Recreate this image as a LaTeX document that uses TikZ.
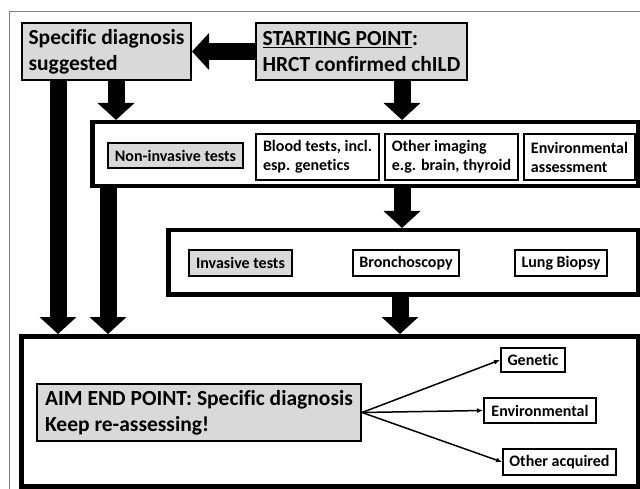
\documentclass[tikz,border=0pt]{standalone}
\usepackage{fontspec}
\setmainfont{Carlito}[Ligatures=NoCommon]
\usetikzlibrary{arrows.meta}
\definecolor{boxgrey}{HTML}{D9D9D9}
\definecolor{framegrey}{HTML}{808080}
\tikzset{
  panel/.style={draw,line width=4.5pt,anchor=north west,inner sep=0pt},
  item/.style={draw,line width=2pt,anchor=north west,inner sep=0pt,align=left,fill=white},
  shaded/.style={fill=boxgrey},
  headfont/.style={font=\bfseries\fontsize{21.5}{26}\selectfont},
  testfont/.style={font=\bfseries\fontsize{16}{19}\selectfont},
  bigarrow/.style={line width=17pt,-{Triangle[width=36pt,length=17pt]}},
  branch/.style={line width=1.5pt,-{Latex[length=6pt,width=5pt]}}
}
\begin{document}
\begin{tikzpicture}[x=1pt,y=-1pt]
	\useasboundingbox (0,0) rectangle (640,489);
	\draw[framegrey,line width=0.8pt] (640,11) -- (9,11) -- (9,489);
	% the three stages
	\node[panel,minimum width=546pt,minimum height=64pt] (noninv) at (90,120) {};
	\node[panel,minimum width=470pt,minimum height=64pt] (inv) at (166,228) {};
	\node[panel,minimum width=617pt,minimum height=150pt] (endbox) at (19,334) {};
	% top row
	\node[item,shaded,headfont,minimum width=169pt,minimum height=57pt] (spec) at (21,22)
		{Specific diagnosis\\suggested};
	\node[item,shaded,headfont,minimum width=211pt,minimum height=57pt] (start) at (255,22)
		{\underline{STARTING POINT}:\\HRCT confirmed chILD};
	% non-invasive tests
	\node[item,shaded,testfont,minimum width=135pt,minimum height=25pt] (nitest) at (107,142) {Non-invasive tests};
	\node[item,testfont,minimum width=123pt,minimum height=46pt] (blood) at (255,133) {Blood tests, incl.\\esp. genetics};
	\node[item,testfont,minimum width=133pt,minimum height=46pt] (imaging) at (384,133) {Other imaging\\e.g. brain, thyroid};
	\node[item,testfont,minimum width=111pt,minimum height=46pt] (envassess) at (523,133) {Environmental\\assessment};
	% invasive tests
	\node[item,shaded,testfont,minimum width=103pt,minimum height=26pt] (invtest) at (188,249) {Invasive tests};
	\node[item,testfont,minimum width=106pt,minimum height=26pt] (broncho) at (352,249) {Bronchoscopy};
	\node[item,testfont,minimum width=92pt,minimum height=26pt] (biopsy) at (514,249) {Lung Biopsy};
	% end point
	\node[item,shaded,headfont,minimum width=324pt,minimum height=57pt] (aim) at (36,383)
		{AIM END POINT: Specific diagnosis\\Keep re-assessing!};
	\node[item,testfont,minimum width=64pt,minimum height=24pt] (genetic) at (500,347) {Genetic};
	\node[item,testfont,minimum width=112pt,minimum height=25pt] (environ) at (483,397) {Environmental};
	\node[item,testfont,minimum width=113pt,minimum height=26pt] (acquired) at (502,448) {Other acquired};
	% columns of the fat arrows
	\coordinate (colA) at (58,0);
	\coordinate (colB) at (108,0);
	\coordinate (colC) at (116,0);
	\coordinate (colD) at (402,0);
	\coordinate (colE) at (400,0);
	\draw[bigarrow] (start.west) -- (spec.east);
	\draw[bigarrow] (spec.south -| colC) -- (noninv.north -| colC);
	\draw[bigarrow] (start.south -| colD) -- (noninv.north -| colD);
	\draw[bigarrow] (noninv.south -| colD) -- (inv.north -| colD);
	\draw[bigarrow] (inv.south -| colE) -- (endbox.north -| colE);
	\draw[bigarrow] (spec.south -| colA) -- (endbox.north -| colA);
	\draw[bigarrow] (noninv.south -| colB) -- (endbox.north -| colB);
	% branches
	\draw[branch] (aim.east) -- (genetic.west);
	\draw[branch] (aim.east) -- (environ.west);
	\draw[branch] (aim.east) -- (acquired.west);
\end{tikzpicture}
\end{document}
